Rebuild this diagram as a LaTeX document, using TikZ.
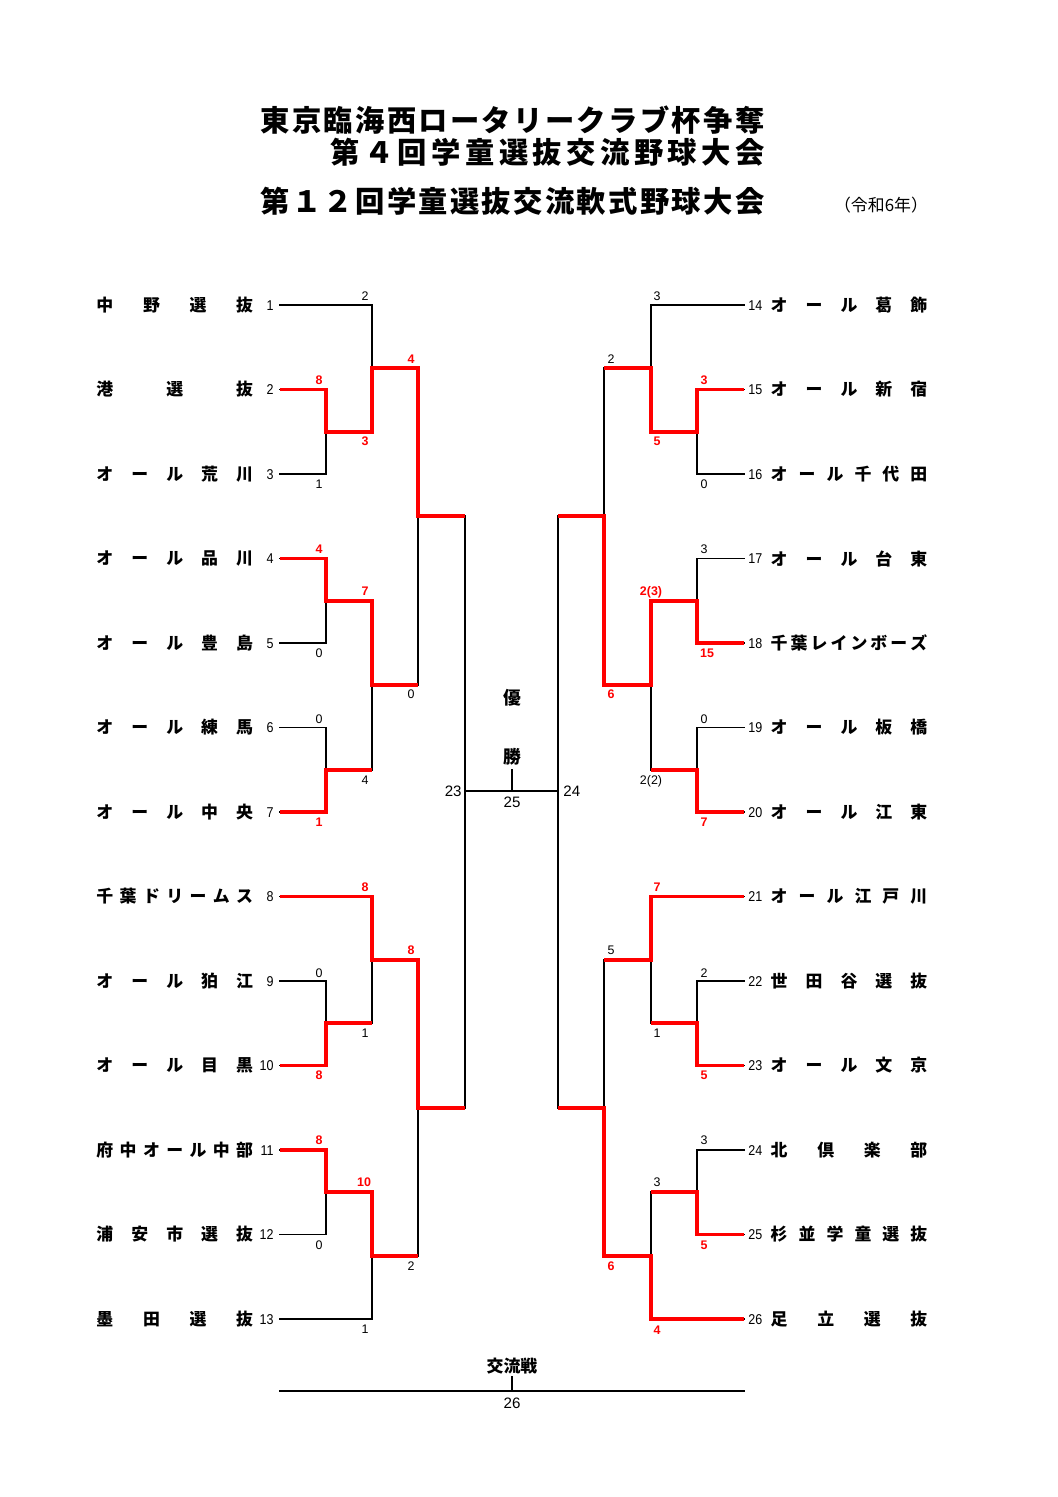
\documentclass[tikz,border=0pt]{standalone}
\usepackage{fontspec}
\newfontfamily\jpf{Noto Sans CJK JP}
\newfontfamily\seedf{Liberation Sans}[FakeStretch=0.88]
\newfontfamily\scoref{Liberation Sans}
\definecolor{winred}{RGB}{255,0,0}
\newlength\pitchlen
\newcommand\spreadend{}
\def\spreadit#1{\ifx#1\spreadend\else\makebox[\pitchlen][c]{#1}\expandafter\spreadit\fi}
\newcommand\tname[2]{\setlength\pitchlen{\dimexpr 78.6pt/(#1-1)\relax}\expandafter\spreadit#2\spreadend}
\newcommand\ttl[2]{\setlength\pitchlen{#1}\expandafter\spreadit#2\spreadend}
\begin{document}
\begin{tikzpicture}[x=0.5625pt,y=-0.5625pt,
  blk/.style={line width=1pt,black,line cap=rect,line join=miter},
  win/.style={line width=2pt,winred,line join=miter},
  tn/.style={font=\jpf\bfseries\fontsize{9.5}{10}\selectfont,inner sep=0pt},
  ttlstyle/.style={font=\jpf\bfseries\fontsize{16.5}{18}\selectfont,inner sep=0pt},
  ctr/.style={font=\jpf\bfseries\fontsize{10}{11}\selectfont,inner sep=0pt},
  seed/.style={font=\seedf\fontsize{8}{9}\selectfont,inner sep=0pt,text height=5.73pt,text depth=0pt},
  sc/.style={font=\scoref\fontsize{7}{8}\selectfont,inner sep=0pt,text height=5pt,text depth=0pt},
  scr/.style={font=\scoref\bfseries\fontsize{7}{8}\selectfont,inner sep=0pt,text height=5pt,text depth=0pt,text=winred}]
\useasboundingbox[fill=white] (0,0) rectangle (1058,1497);

% titles
\node[ttlstyle] (title1) at (512.5,120) {\ttl{17.81pt}{東京臨海西ロータリークラブ杯争奪}};
\node[ttlstyle] (title2) at (547.5,152) {\ttl{18.98pt}{第４回学童選抜交流野球大会}};
\node[ttlstyle] (title3) at (512.5,201) {\ttl{17.81pt}{第１２回学童選抜交流軟式野球大会}};
\node[font=\jpf\fontsize{9.5}{10}\selectfont,inner sep=0pt] (year) at (881,205) {（令和6年）};

% left teams
\foreach \i/\yy/\nc/\tx in {1/305/4/中野選抜,2/389.5/3/港選抜,3/474/5/オール荒川,4/558.5/5/オール品川,5/643/5/オール豊島,6/727.5/5/オール練馬,7/812/5/オール中央,8/896.5/7/千葉ドリームス,9/981/5/オール狛江,10/1065.5/5/オール目黒,11/1150/7/府中オール中部,12/1234.5/5/浦安市選抜,13/1319/4/墨田選抜}{
  \node[tn] (n\i) at (174.75,\yy) {\tname{\nc}{\tx}};
  \node[seed,anchor=east] (s\i) at (274,\yy) {\i};
  \coordinate (t\i) at (280,\yy);
}
% right teams
\foreach \i/\yy/\nc/\tx in {14/305/5/オール葛飾,15/389.5/5/オール新宿,16/474/6/オール千代田,17/558.5/5/オール台東,18/643/8/千葉レインボーズ,19/727.5/5/オール板橋,20/812/5/オール江東,21/896.5/6/オール江戸川,22/981/5/世田谷選抜,23/1065.5/5/オール文京,24/1150/4/北倶楽部,25/1234.5/6/杉並学童選抜,26/1319/4/足立選抜}{
  \node[tn] (n\i) at (849,\yy) {\tname{\nc}{\tx}};
  \node[seed,anchor=west] (s\i) at (748,\yy) {\i};
  \coordinate (t\i) at (744,\yy);
}

% match points left
\coordinate (a1) at (326,432);
\coordinate (b1) at (372,368);
\coordinate (a2) at (326,601);
\coordinate (a3) at (326,770);
\coordinate (b2) at (372,685);
\coordinate (c1) at (418,516);
\coordinate (f) at (465,791);
\coordinate (a4) at (326,1023);
\coordinate (b3) at (372,960);
\coordinate (a5) at (326,1192);
\coordinate (b4) at (372,1256);
\coordinate (c2) at (418,1108);
% match points right
\coordinate (ra1) at (697,432);
\coordinate (rb1) at (651,368);
\coordinate (ra2) at (697,601);
\coordinate (ra3) at (697,770);
\coordinate (rb2) at (651,685);
\coordinate (rc1) at (604,516);
\coordinate (rf) at (558,791);
\coordinate (rb3) at (651,960);
\coordinate (ra4) at (697,1023);
\coordinate (ra5) at (697,1192);
\coordinate (rb4) at (651,1256);
\coordinate (rc2) at (604,1108);
\coordinate (tick) at (512,770);

% black bracket
\foreach \u/\v in {t1/b1,t2/a1,t3/a1,a1/b1,b1/c1,t4/a2,t5/a2,t6/a3,t7/a3,a2/b2,a3/b2,b2/c1,c1/f,t8/b3,t9/a4,t10/a4,a4/b3,b3/c2,t11/a5,t12/a5,a5/b4,t13/b4,b4/c2,c2/f,
  t14/rb1,t15/ra1,t16/ra1,ra1/rb1,rb1/rc1,t17/ra2,t18/ra2,t19/ra3,t20/ra3,ra2/rb2,ra3/rb2,rb2/rc1,rc1/rf,t21/rb3,t22/ra4,t23/ra4,ra4/rb3,rb3/rc2,t24/ra5,t25/ra5,ra5/rb4,t26/rb4,rb4/rc2,rc2/rf}
  \draw[blk] (\u) -| (\v);
\draw[blk] (f) -- (rf);
\draw[blk] (tick) -- (tick |- f);

% winners (red)
\draw[win] (t2) -| (a1) -| (b1) -| (c1) -- (c1 -| f);
\draw[win] (t4) -| (a2) -| (b2) -- (b2 -| c1);
\draw[win] (t7) -| (a3) -- (a3 -| b2);
\draw[win] (t8) -| (b3) -| (c2) -- (c2 -| f);
\draw[win] (t10) -| (a4) -- (a4 -| b3);
\draw[win] (t11) -| (a5) -| (b4) -- (b4 -| c2);
\draw[win] (t15) -| (ra1) -| (rb1) -- (rb1 -| rc1);
\draw[win] (t18) -| (ra2) -| (rb2) -| (rc1) -- (rc1 -| rf);
\draw[win] (t20) -| (ra3) -- (ra3 -| rb2);
\draw[win] (t21) -| (rb3) -- (rb3 -| rc2);
\draw[win] (t23) -| (ra4) -- (ra4 -| rb3);
\draw[win] (t25) -| (ra5) -- (ra5 -| rb4);
\draw[win] (t26) -| (rb4) -| (rc2) -- (rc2 -| rf);

% scores black
\foreach \nm/\x/\y/\v in {k1/365/296/2,k2/319/484/1,k3/319/653/0,k4/319/719/0,k5/365/780/4,k6/411/694/0,k7/319/973/0,k8/365/1033/1,k9/319/1245/0,k10/411/1266/2,k11/365/1329/1,
  k12/657/296/3,k13/704/484/0,k14/611/359/2,k15/704/549/3,k16/704/719/0,k17/651/780/2(2),k18/704/973/2,k19/657/1033/1,k20/611/950/5,k21/704/1140/3,k22/657/1182/3}
  \node[sc] (\nm) at (\x,\y) {\v};
% scores red
\foreach \nm/\x/\y/\v in {w1/319/380/8,w2/365/441/3,w3/411/359/4,w4/319/549/4,w5/365/591/7,w6/319/822/1,w7/365/887/8,w8/411/950/8,w9/319/1075/8,w10/319/1140/8,w11/364/1182/10,
  w12/704/380/3,w13/657/441/5,w14/611/694/6,w15/651/591/2(3),w16/707/653/15,w17/704/822/7,w18/657/887/7,w19/704/1075/5,w20/611/1266/6,w21/704/1245/5,w22/657/1330/4}
  \node[scr] (\nm) at (\x,\y) {\v};

% centre
\node[ctr] (yu) at (512,698) {優};
\node[ctr] (sho) at (512,757) {勝};
\node[seed,font=\scoref\fontsize{8.5}{9}\selectfont] (g25) at (512,802) {25};
\node[seed,font=\scoref\fontsize{8.5}{9}\selectfont,anchor=east] (g23) at (462,791) {23};
\node[seed,font=\scoref\fontsize{8.5}{9}\selectfont,anchor=west] (g24) at (563,791) {24};

% exchange match
\node[ctr,font=\jpf\bfseries\fontsize{9.5}{10}\selectfont] (kor) at (512,1366) {交流戦};
\coordinate (bl) at (280,1391);
\coordinate (br) at (744,1391);
\coordinate (btick) at (512,1377);
\draw[blk] (bl) -- (br);
\draw[blk] (btick) -- (btick |- bl);
\node[seed,font=\scoref\fontsize{8.5}{9}\selectfont] (g26) at (512,1403) {26};
\end{tikzpicture}
\end{document}
